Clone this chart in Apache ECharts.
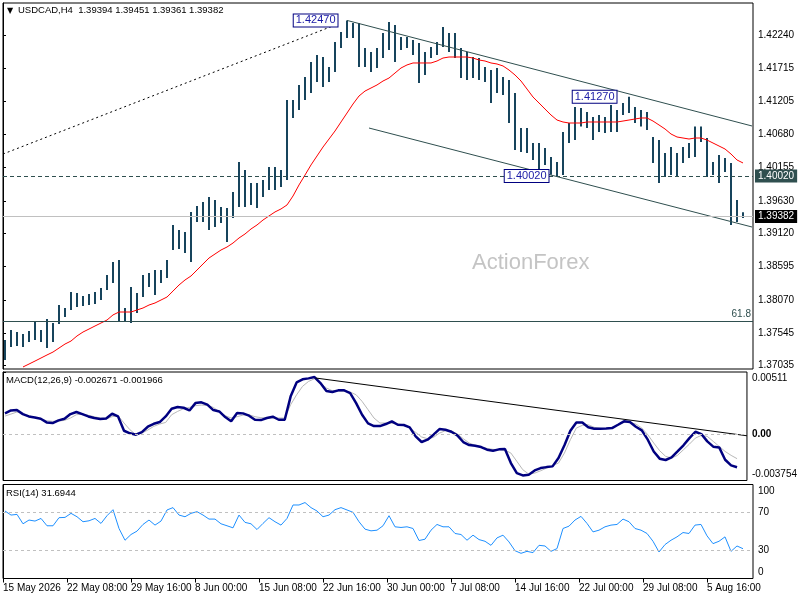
<!DOCTYPE html>
<html><head><meta charset="utf-8">
<script src="https://cdn.jsdelivr.net/npm/echarts@6/dist/echarts.min.js"></script>
<style>html,body{margin:0;padding:0;background:#fff}#c{width:800px;height:600px}</style>
</head><body><div id="c"></div>
<script>
// ---- data (coarse bars: each stands for 3 H4 bars) ----
const TIME_LABELS = ['15 May 2026','22 May 08:00','29 May 16:00','8 Jun 00:00','15 Jun 08:00','22 Jun 16:00','30 Jun 00:00','7 Jul 08:00','14 Jul 16:00','22 Jul 00:00','29 Jul 08:00','5 Aug 16:00'];
const BARS_PER_LABEL = 32;
const PRICE_TICKS = [1.42240,1.41715,1.41205,1.40680,1.40155,1.39630,1.39120,1.38595,1.38070,1.37545,1.37035];
const MACD_TICKS = [0.00511, 0, -0.003754];
const RSI_TICKS = [100,70,30,0];

const HIGH = [1.37439,1.37597,1.37565,1.37534,1.37581,1.37722,1.37597,1.37769,1.37707,1.37990,
1.37943,1.38195,1.38179,1.38132,1.38163,1.38195,1.38258,1.38462,1.38667,1.38698,
1.37943,1.38273,1.38179,1.38462,1.38494,1.38541,1.38541,1.38698,1.39249,1.39171,
1.39139,1.39454,1.39548,1.39611,1.39690,1.39643,1.39533,1.39517,1.39769,1.40241,
1.40115,1.39910,1.39910,1.39958,1.40163,1.40163,1.40115,1.41217,1.41217,1.41453,
1.41579,1.41815,1.41925,1.41894,1.41736,1.42130,1.42287,1.42470,1.42429,1.42429,
1.42035,1.41972,1.42035,1.42271,1.42445,1.42398,1.42209,1.42209,1.42161,1.42114,
1.41972,1.42051,1.42130,1.42366,1.42271,1.42271,1.42035,1.41972,1.41894,1.41878,
1.41736,1.41689,1.41721,1.41579,1.41532,1.41327,1.40776,1.40776,1.40540,1.40540,
1.40461,1.40320,1.40241,1.40713,1.40855,1.41107,1.41091,1.41028,1.40949,1.40981,
1.40949,1.41138,1.41060,1.41170,1.41270,1.41107,1.41060,1.41028,1.40635,1.40587,
1.40383,1.40477,1.40383,1.40477,1.40540,1.40799,1.40799,1.40619,1.40241,1.40351,
1.40304,1.40225,1.39643,1.39451];
const LOW = [1.37124,1.37329,1.37345,1.37329,1.37408,1.37439,1.37408,1.37313,1.37408,1.37691,
1.37801,1.37911,1.37959,1.37974,1.37990,1.38006,1.38069,1.38226,1.38336,1.37722,
1.37722,1.37707,1.37864,1.38116,1.38273,1.38147,1.38336,1.38415,1.38856,1.38872,
1.38809,1.38667,1.39296,1.39296,1.39171,1.39218,1.39281,1.38982,1.39359,1.39533,
1.39533,1.39564,1.39517,1.39690,1.39799,1.39799,1.39847,1.39958,1.40934,1.41060,
1.41217,1.41327,1.41500,1.41422,1.41500,1.41658,1.42035,1.42193,1.42193,1.41736,
1.41736,1.41658,1.41721,1.41878,1.42004,1.41815,1.42004,1.42035,1.41925,1.41485,
1.41610,1.41878,1.41925,1.42051,1.41972,1.41878,1.41563,1.41532,1.41563,1.41532,
1.41500,1.41170,1.41327,1.41296,1.40855,1.40430,1.40398,1.40383,1.40272,1.40115,
1.40194,1.40040,1.40020,1.40036,1.40540,1.40587,1.40799,1.40776,1.40587,1.40713,
1.40697,1.40713,1.40713,1.40981,1.41012,1.40855,1.40799,1.40745,1.40225,1.39910,
1.40005,1.40036,1.40005,1.40225,1.40304,1.40320,1.40556,1.40005,1.40036,1.39910,
1.40084,1.39249,1.39296,1.39361];
const MA = [null,null,null,1.37015,1.37061,1.37108,1.37156,1.37204,1.37250,1.37313,
1.37376,1.37423,1.37503,1.37565,1.37612,1.37660,1.37707,1.37754,1.37834,1.37880,
1.37880,1.37880,1.37912,1.37943,1.37990,1.38022,1.38069,1.38116,1.38210,1.38305,
1.38384,1.38447,1.38541,1.38636,1.38730,1.38793,1.38856,1.38903,1.38966,1.39045,
1.39108,1.39187,1.39250,1.39328,1.39392,1.39455,1.39502,1.39565,1.39706,1.39880,
1.40036,1.40195,1.40336,1.40477,1.40603,1.40729,1.40871,1.41012,1.41154,1.41280,
1.41358,1.41406,1.41454,1.41516,1.41563,1.41642,1.41721,1.41769,1.41800,1.41800,
1.41800,1.41800,1.41831,1.41878,1.41894,1.41894,1.41894,1.41894,1.41878,1.41847,
1.41831,1.41800,1.41784,1.41753,1.41689,1.41611,1.41516,1.41390,1.41264,1.41170,
1.41075,1.40981,1.40902,1.40871,1.40855,1.40855,1.40855,1.40871,1.40871,1.40871,
1.40871,1.40871,1.40871,1.40886,1.40902,1.40918,1.40934,1.40934,1.40886,1.40824,
1.40761,1.40682,1.40635,1.40619,1.40603,1.40619,1.40619,1.40587,1.40540,1.40493,
1.40446,1.40367,1.40273,1.40226];
const MACD = [0.00173,0.00197,0.00200,0.00167,0.00148,0.00140,0.00129,0.00099,0.00094,0.00116,
0.00129,0.00167,0.00184,0.00167,0.00148,0.00135,0.00127,0.00132,0.00170,0.00148,
0.00031,0.00010,-0.00001,0.00020,0.00064,0.00088,0.00102,0.00148,0.00211,0.00225,
0.00219,0.00197,0.00257,0.00263,0.00244,0.00200,0.00189,0.00143,0.00108,0.00176,
0.00173,0.00154,0.00121,0.00118,0.00135,0.00146,0.00121,0.00121,0.00312,0.00426,
0.00451,0.00459,0.00470,0.00421,0.00355,0.00347,0.00361,0.00361,0.00339,0.00257,
0.00162,0.00091,0.00069,0.00069,0.00086,0.00108,0.00080,0.00078,0.00059,-0.00015,
-0.00061,-0.00042,-0.00001,0.00045,0.00039,0.00023,-0.00007,-0.00061,-0.00086,-0.00091,
-0.00102,-0.00124,-0.00132,-0.00121,-0.00118,-0.00233,-0.00315,-0.00334,-0.00328,-0.00293,
-0.00274,-0.00266,-0.00260,-0.00192,-0.00088,0.00031,0.00099,0.00099,0.00059,0.00048,
0.00048,0.00050,0.00053,0.00080,0.00108,0.00102,0.00064,0.00034,-0.00042,-0.00138,
-0.00197,-0.00208,-0.00187,-0.00138,-0.00088,-0.00029,0.00023,0.00004,-0.00056,-0.00099,
-0.00105,-0.00206,-0.00252,-0.00267];
const SIGNAL = [0.00151,0.00167,0.00184,0.00170,0.00154,0.00140,0.00127,0.00113,0.00108,0.00110,
0.00116,0.00135,0.00162,0.00167,0.00157,0.00146,0.00135,0.00127,0.00146,0.00154,
0.00094,0.00039,-0.00001,0.00012,0.00037,0.00067,0.00086,0.00099,0.00162,0.00189,
0.00211,0.00222,0.00236,0.00241,0.00238,0.00222,0.00187,0.00154,0.00135,0.00146,
0.00159,0.00162,0.00146,0.00138,0.00135,0.00135,0.00135,0.00135,0.00244,0.00325,
0.00394,0.00434,0.00456,0.00421,0.00380,0.00358,0.00353,0.00353,0.00347,0.00325,
0.00271,0.00203,0.00135,0.00094,0.00094,0.00091,0.00088,0.00080,0.00053,0.00018,
-0.00020,-0.00034,-0.00023,0.00012,0.00031,0.00031,0.00004,-0.00034,-0.00069,-0.00088,
-0.00102,-0.00113,-0.00121,-0.00124,-0.00127,-0.00151,-0.00219,-0.00287,-0.00323,-0.00315,
-0.00296,-0.00274,-0.00252,-0.00233,-0.00151,-0.00042,0.00053,0.00075,0.00080,0.00059,
0.00050,0.00048,0.00059,0.00075,0.00099,0.00099,0.00086,0.00053,-0.00001,-0.00069,
-0.00132,-0.00178,-0.00192,-0.00170,-0.00124,-0.00078,-0.00029,-0.00007,-0.00015,-0.00056,
-0.00097,-0.00138,-0.00170,-0.00197];
const RSI = [71.8,67.5,68.2,58.2,62.2,61.1,63.9,56.1,56.1,64.7,
65.0,69.3,65.7,60.4,61.4,63.9,58.6,66.8,73.2,53.2,
40.7,46.8,50.4,57.5,62.2,56.8,61.1,72.9,75.4,67.5,
65.7,69.3,71.1,67.5,63.2,63.2,58.2,56.1,53.9,67.5,
59.7,58.2,52.1,58.6,64.7,60.4,56.8,63.9,78.2,78.2,
80.8,75.4,71.8,65.7,67.5,73.2,75.4,72.9,70.4,60.4,
52.5,50.7,51.4,56.1,66.8,55.0,54.3,55.0,53.2,40.4,
41.8,51.4,57.5,55.0,55.0,47.9,46.8,40.7,46.1,41.4,
39.6,35.3,43.2,46.1,38.9,29.6,26.8,28.9,27.5,35.3,
34.6,28.9,31.8,53.2,55.7,62.2,66.1,58.6,49.6,51.4,
55.0,56.8,57.5,63.2,60.4,53.2,51.4,47.9,39.6,28.2,
36.1,40.7,44.3,48.9,47.9,56.8,57.5,45.4,37.1,39.6,
44.3,28.9,34.6,31.7];

// H4-bar index of each coarse bar
const X = HIGH.map((_, j) => 3 * j + 1);

const LEVEL_RES = 1.40020, LEVEL_LAST = 1.39382, LEVEL_FIB = 1.37738;
const SWING_IDX = [172, 313, 277];
const SWING_PRICE = [1.42470, 1.41270, 1.40020];
const UPPER_CH = [[172, 1.42470], [374.5, 1.40808]];
const LOWER_CH = [[183, 1.40776], [374.5, 1.39218]];
const DOTTED_LN = [[0, 1.40367], [167.5, 1.42414]];
const MACD_TREND = [[157.5, 0.00462], [375, -0.0001]];

const FONT = '"Liberation Sans", Arial, sans-serif';
const swingDist = [9, 12, 8];

const chart = echarts.init(document.getElementById('c'), null, {renderer: 'canvas'});
const gridBase = {left: 3, right: 47, show: true, borderColor: '#000', borderWidth: 1, backgroundColor: 'transparent'};
const xBase = {type: 'value', min: 0, max: 375, interval: BARS_PER_LABEL, splitLine: {show: false}};
const yBase = {type: 'value', position: 'right', splitLine: {show: false},
  axisLine: {show: true, lineStyle: {color: '#000'}},
  axisTick: {show: true, length: 3, lineStyle: {color: '#000'}},
  axisLabel: {color: '#000', fontSize: 10, fontFamily: FONT, margin: 5}};
// labels at the panel edges are drawn inside the panel, as in the terminal
const edgeRich = {dn: {padding: [13, 0, 0, 0], fontSize: 10, fontFamily: FONT, color: '#000'},
                  up: {padding: [0, 0, 13, 0], fontSize: 10, fontFamily: FONT, color: '#000'},
                  b: {fontSize: 10, fontFamily: FONT, color: '#000', fontWeight: 'bold'}};

const option = {
  animation: false,
  backgroundColor: '#fff',
  grid: [
    Object.assign({top: 3, height: 366}, gridBase),
    Object.assign({top: 372, height: 108.5}, gridBase),
    Object.assign({top: 484.5, height: 94}, gridBase)
  ],
  xAxis: [
    Object.assign({gridIndex: 0, show: false}, xBase),
    Object.assign({gridIndex: 1, show: false}, xBase),
    Object.assign({gridIndex: 2,
      axisLine: {show: false},
      axisTick: {show: true, length: 4, lineStyle: {color: '#000'}},
      axisLabel: {show: true, showMaxLabel: false, align: 'left', margin: 5, color: '#000', fontSize: 10, fontFamily: FONT,
        formatter: v => (v % BARS_PER_LABEL === 0 && TIME_LABELS[v / BARS_PER_LABEL]) ? TIME_LABELS[v / BARS_PER_LABEL] : ''}
    }, xBase)
  ],
  yAxis: [
    Object.assign({}, yBase, {gridIndex: 0, min: 1.36983, max: 1.42744,
      axisTick: Object.assign({}, yBase.axisTick, {customValues: PRICE_TICKS}),
      axisLabel: Object.assign({}, yBase.axisLabel, {customValues: PRICE_TICKS, formatter: v => v.toFixed(5)})}),
    Object.assign({}, yBase, {gridIndex: 1, min: MACD_TICKS[2], max: MACD_TICKS[0],
      axisTick: Object.assign({}, yBase.axisTick, {customValues: MACD_TICKS}),
      axisLabel: Object.assign({}, yBase.axisLabel, {customValues: MACD_TICKS, rich: edgeRich,
        formatter: v => v === 0 ? '{b|0.00}' : (v > 0 ? '{dn|' + String(v) + '}' : '{up|' + String(v) + '}')})}),
    Object.assign({}, yBase, {gridIndex: 2, min: 0, max: 100,
      axisTick: Object.assign({}, yBase.axisTick, {customValues: RSI_TICKS}),
      axisLabel: Object.assign({}, yBase.axisLabel, {customValues: RSI_TICKS, rich: edgeRich,
        formatter: v => v === 100 ? '{dn|100}' : (v === 0 ? '{up|0}' : String(v))})})
  ],
  graphic: [
    {type: 'text', left: 7, top: 7, silent: true, style: {text: '▼', font: '8px "DejaVu Sans"', fill: '#000'}},
    {type: 'text', left: 18, top: 5, silent: true, style: {text: 'USDCAD,H4  1.39394 1.39451 1.39361 1.39382', font: '9.5px ' + FONT, fill: '#000'}},
    {type: 'text', left: 472, top: 252, silent: true, style: {text: 'ActionForex', font: '22px ' + FONT, fill: '#c4c4c4'}},
    {type: 'text', left: 6, top: 375, silent: true, style: {text: 'MACD(12,26,9) -0.002671 -0.001966', font: '9.5px ' + FONT, fill: '#000'}},
    {type: 'text', left: 6, top: 488, silent: true, style: {text: 'RSI(14) 31.6944', font: '9.5px ' + FONT, fill: '#000'}}
  ],
  series: [
    {
      type: 'custom', xAxisIndex: 0, yAxisIndex: 0, silent: true, clip: true,
      data: X.map((x, j) => [x, HIGH[j], LOW[j]]),
      encode: {x: 0, y: [1, 2]},
      renderItem: (params, api) => {
        const p1 = api.coord([api.value(0), api.value(1)]);
        const p2 = api.coord([api.value(0), api.value(2)]);
        return {type: 'line', shape: {x1: p1[0], y1: p1[1], x2: p2[0], y2: p2[1]},
          style: {stroke: '#17445c', lineWidth: 2}};
      },
      markPoint: {
        silent: true, symbol: 'circle', symbolSize: 1, itemStyle: {color: 'rgba(0,0,0,0)'},
        data: SWING_IDX.map((ix, k) => ({coord: [ix, SWING_PRICE[k]],
          label: {show: true, position: 'left', distance: swingDist[k], formatter: SWING_PRICE[k].toFixed(5),
            color: '#1a1aa6', backgroundColor: '#fff', borderColor: '#000080', borderWidth: 1,
            padding: [1, 2, 0, 2], fontSize: 11, fontFamily: FONT}}))
      }
    },
    {type: 'line', xAxisIndex: 0, yAxisIndex: 0, data: X.map((x, j) => [x, MA[j]]), showSymbol: false,
      lineStyle: {color: '#ff0000', width: 1}, silent: true,
      markLine: {
        silent: true, symbol: 'none', animation: false, precision: 5,
        data: [
          {yAxis: LEVEL_RES, lineStyle: {type: [4, 3], color: '#2f4f4f', width: 1},
            label: {show: true, position: 'end', distance: 2, formatter: LEVEL_RES.toFixed(5), color: '#fff',
              backgroundColor: '#2f4f4f', padding: [2, 3, 1, 3], fontSize: 10, fontFamily: FONT}},
          {yAxis: LEVEL_LAST, lineStyle: {type: 'solid', color: '#c0c0c0', width: 1},
            label: {show: true, position: 'end', distance: 2, formatter: LEVEL_LAST.toFixed(5), color: '#fff',
              backgroundColor: '#000', padding: [2, 3, 1, 3], fontSize: 10, fontFamily: FONT}},
          {yAxis: LEVEL_FIB, lineStyle: {type: 'solid', color: '#2f4f4f', width: 1},
            label: {show: true, position: 'insideEndTop', distance: 2, formatter: '61.8', color: '#2f4f4f',
              fontSize: 10, fontFamily: FONT}}
        ]
      }},
    {type: 'line', xAxisIndex: 0, yAxisIndex: 0, data: UPPER_CH, showSymbol: false, lineStyle: {color: '#2f4f4f', width: 1}, silent: true},
    {type: 'line', xAxisIndex: 0, yAxisIndex: 0, data: LOWER_CH, showSymbol: false, lineStyle: {color: '#2f4f4f', width: 1}, silent: true},
    {type: 'line', xAxisIndex: 0, yAxisIndex: 0, data: DOTTED_LN, showSymbol: false, lineStyle: {color: '#000', width: 1, type: [2, 3]}, silent: true},

    {type: 'line', xAxisIndex: 1, yAxisIndex: 1, data: X.map((x, j) => [x, SIGNAL[j]]), showSymbol: false,
      lineStyle: {color: '#b8b8b8', width: 1}, silent: true,
      markLine: {silent: true, symbol: 'none', precision: 6, label: {show: false}, data: [{yAxis: 0}],
        lineStyle: {type: [3, 3], color: '#c0c0c0', width: 1}}},
    {type: 'line', xAxisIndex: 1, yAxisIndex: 1, data: X.map((x, j) => [x, MACD[j]]), showSymbol: false,
      lineStyle: {color: '#000080', width: 2.5}, silent: true},
    {type: 'line', xAxisIndex: 1, yAxisIndex: 1, data: MACD_TREND, showSymbol: false, lineStyle: {color: '#000', width: 1}, silent: true},

    {type: 'line', xAxisIndex: 2, yAxisIndex: 2, data: X.map((x, j) => [x, RSI[j]]), showSymbol: false,
      lineStyle: {color: '#1e90ff', width: 1}, silent: true,
      markLine: {silent: true, symbol: 'none', label: {show: false}, data: [{yAxis: 70}, {yAxis: 30}],
        lineStyle: {type: [3, 3], color: '#c0c0c0', width: 1}}}
  ]
};
chart.setOption(option);
</script>
</body></html>
